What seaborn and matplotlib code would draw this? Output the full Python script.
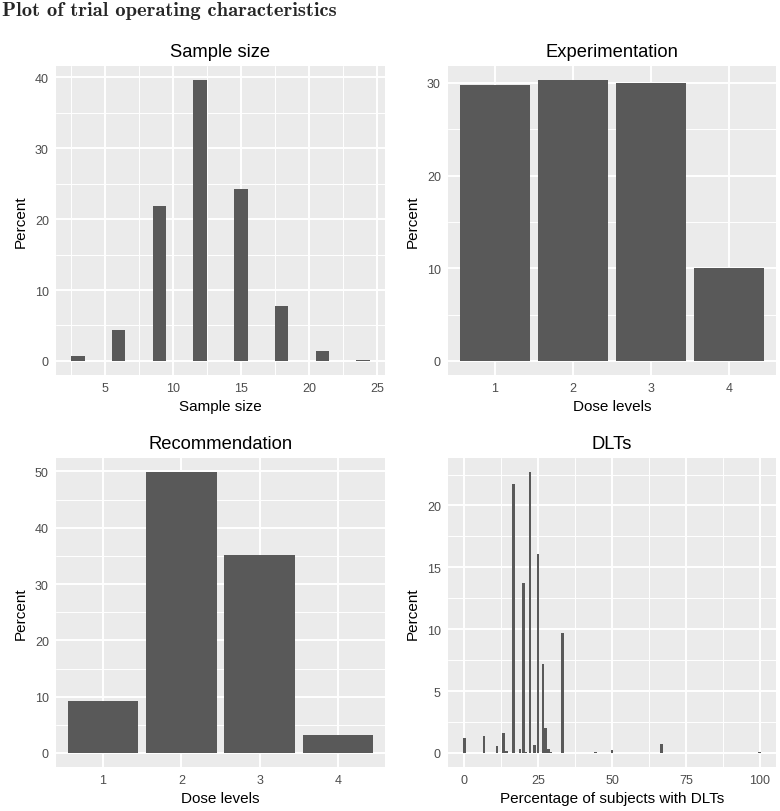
import numpy as np
import pandas as pd
import matplotlib
matplotlib.use("Agg")
import matplotlib.pyplot as plt
from matplotlib.ticker import MultipleLocator
import seaborn as sns

# ---------------- data ----------------
sample_sizes = [3, 6, 9, 12, 15, 18, 21, 24]
sample_pct = [0.75, 4.35, 21.9, 39.6, 24.3, 7.8, 1.36, 0.14]

dose_levels = ["1", "2", "3", "4"]
experimentation_pct = [29.8, 30.3, 30.0, 10.0]
recommendation_pct = [9.2, 49.9, 35.2, 3.2]

dlt_pct_subjects = [0, 6.7, 11.1, 13.3, 14.3, 16.7, 18.9, 20.0, 20.8, 22.2,
                    23.8, 25.0, 26.7, 27.5, 28.6, 29.2, 33.3, 41.7, 44.4,
                    50.0, 66.7, 100.0]
dlt_pct = [1.2, 1.37, 0.55, 1.58, 0.13, 21.7, 0.33, 13.7, 0.1, 22.7,
           0.62, 16.1, 7.2, 2.0, 0.28, 0.1, 9.7, 0.03, 0.06,
           0.2, 0.72, 0.04]

# ---------------- style ----------------
sns.set_theme(style="darkgrid")
plt.rcParams.update({
    "font.family": ["Liberation Sans", "DejaVu Sans"],
    "axes.facecolor": "#EBEBEB",
    "grid.color": "white",
    "xtick.major.size": 2.75,
    "ytick.major.size": 2.75,
    "xtick.major.width": 1.0,
    "ytick.major.width": 1.0,
    "xtick.color": "#333333",
    "ytick.color": "#333333",
    "xtick.labelcolor": "#4D4D4D",
    "ytick.labelcolor": "#4D4D4D",
    "xtick.labelsize": 9,
    "ytick.labelsize": 9,
    "xtick.major.pad": 2.6,
    "ytick.major.pad": 2.4,
    "axes.labelsize": 11,
    "axes.labelcolor": "black",
    "axes.titlesize": 13.2,
})

BAR = "#595959"
W, H = 780, 812
fig = plt.figure(figsize=(W / 100, H / 100), dpi=100)


def rect(l, t, r, b):
    return [l / W, 1 - b / H, (r - l) / W, (b - t) / H]


ax1 = fig.add_axes(rect(56, 67, 385, 376))
ax2 = fig.add_axes(rect(448, 67, 776, 376))
ax3 = fig.add_axes(rect(56, 459, 385, 768))
ax4 = fig.add_axes(rect(448, 459, 776, 768))


def style(ax, title, xlabel, ymaj, ymin, xmaj=None, xmin=None):
    ax.set_title(title, pad=7, color="black")
    ax.set_xlabel(xlabel, labelpad=3)
    ax.set_ylabel("Percent", labelpad=5)
    ax.yaxis.set_major_locator(MultipleLocator(ymaj))
    ax.yaxis.set_minor_locator(MultipleLocator(ymin))
    if xmaj is not None:
        ax.xaxis.set_major_locator(MultipleLocator(xmaj))
        ax.xaxis.set_minor_locator(MultipleLocator(xmin))
        ax.tick_params(axis="x", which="minor", length=0)
    ax.tick_params(axis="y", which="minor", length=0)
    ax.grid(True, which="major", color="white", linewidth=1.4)
    ax.grid(True, which="minor", color="white", linewidth=0.7)
    ax.set_axisbelow(True)
    for s in ax.spines.values():
        s.set_visible(False)


# Sample size
df1 = pd.DataFrame({"x": sample_sizes, "y": sample_pct})
gap1 = np.min(np.diff(np.sort(df1["x"].unique())))
sns.barplot(data=df1, x="x", y="y", native_scale=True, color=BAR,
            saturation=1, errorbar=None, width=1.0 / gap1, linewidth=0, ax=ax1)
ax1.set_xlim(1.4, 25.6)
ax1.set_ylim(-1.98, 41.58)
style(ax1, "Sample size", "Sample size", 10, 5, 5, 2.5)

# Experimentation
df2 = pd.DataFrame({"x": dose_levels, "y": experimentation_pct})
sns.barplot(data=df2, x="x", y="y", order=dose_levels, color=BAR,
            saturation=1, errorbar=None, width=0.9, linewidth=0, ax=ax2)
ax2.set_xlim(-0.6, 3.6)
ax2.set_ylim(-1.515, 31.815)
style(ax2, "Experimentation", "Dose levels", 10, 5)

# Recommendation
df3 = pd.DataFrame({"x": dose_levels, "y": recommendation_pct})
sns.barplot(data=df3, x="x", y="y", order=dose_levels, color=BAR,
            saturation=1, errorbar=None, width=0.9, linewidth=0, ax=ax3)
ax3.set_xlim(-0.6, 3.6)
ax3.set_ylim(-2.495, 52.395)
style(ax3, "Recommendation", "Dose levels", 10, 5)

# DLTs
df4 = pd.DataFrame({"x": dlt_pct_subjects, "y": dlt_pct})
gap4 = np.min(np.diff(np.sort(df4["x"].unique())))
sns.barplot(data=df4, x="x", y="y", native_scale=True, color=BAR,
            saturation=1, errorbar=None, width=0.9 / gap4, linewidth=0, ax=ax4)
ax4.set_xlim(-5.5, 105.5)
ax4.set_ylim(-1.135, 23.835)
style(ax4, "DLTs", "Percentage of subjects with DLTs", 5, 2.5, 25, 12.5)

fig.text(2 / W, 1 - 16.5 / H, "Plot of trial operating characteristics",
         family=["cmb10", "DejaVu Serif"], fontsize=14.8, ha="left",
         va="baseline")

fig.savefig("out.png", dpi=100)
